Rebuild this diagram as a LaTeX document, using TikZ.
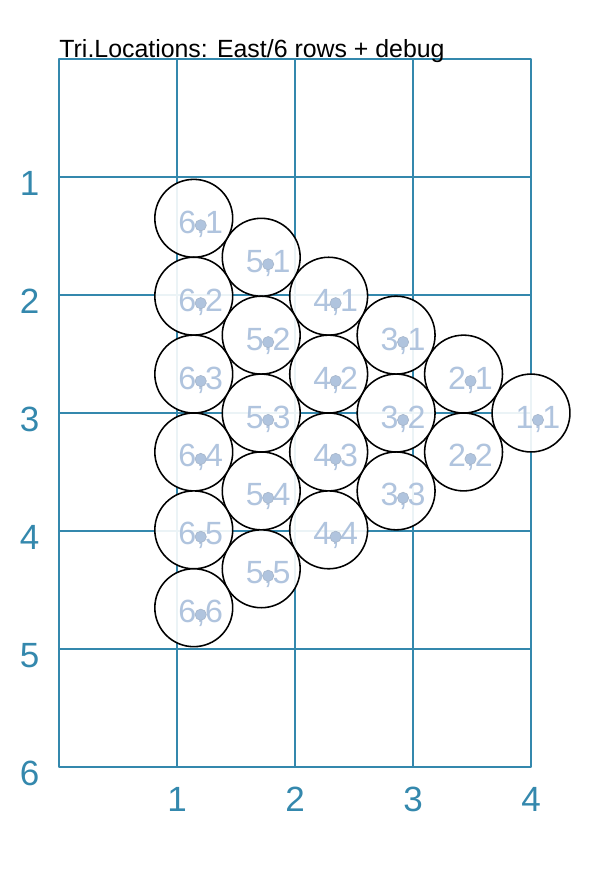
\documentclass[tikz,border=0pt]{standalone}
\usepackage{fontspec}
\setmainfont{Liberation Sans}
\usepackage{xcolor}
\definecolor{gridblue}{RGB}{52,136,173}
\definecolor{lightsteel}{RGB}{176,196,222}

\begin{document}
\begin{tikzpicture}[x=2cm, y=-2cm,
    gridline/.style={draw=gridblue, line width=0.95pt, line join=round},
    axislabel/.style={text=gridblue, font=\fontsize{16.9}{18}\selectfont, inner sep=0pt, anchor=base},
    cell/.style={circle, draw=black, line width=0.75pt, fill=white, fill opacity=0.9, minimum size=1.32cm, inner sep=0pt},
    cellno/.style={text=lightsteel, font=\fontsize{15.5}{16}\selectfont, inner sep=0pt, anchor=base},
    marker/.style={circle, fill=lightsteel, draw=lightsteel!80!gray, line width=0.3pt, minimum size=0.19cm, inner sep=0pt}
]
    \useasboundingbox (-0.5,-0.5) rectangle (4.695,6.915);

    % Grid
    \draw[gridline] (0,0) rectangle (4,6);
    \foreach \i in {1,2,3}
        \draw[gridline] (\i,0) -- (\i,6);
    \foreach \i in {1,...,5}
        \draw[gridline] (0,\i) -- (4,\i);

    % Axis labels
    \foreach \i in {1,...,6}
        \node[axislabel] (ylab\i) at (-0.25,\i+0.153) {\i};
    \foreach \i in {1,...,4}
        \node[axislabel] (xlab\i) at (\i,6.373) {\i};

    % Title
    \node[anchor=base west, inner sep=0pt, font=\fontsize{12}{13}\selectfont] (title) at (0,-0.015) {Tri.Locations: East/6 rows + debug};

    % Circles
    \foreach \k in {1,...,6} {
        \foreach \j in {1,...,\k} {
            \pgfmathsetmacro{\cx}{4-(\k-1)*0.5716}
            \pgfmathsetmacro{\cy}{3+(\j-1-(\k-1)/2)*0.66}
            \node[cell] (c\k\j) at (\cx,\cy) {};
            \node[cellno] (n\k\j) at ([shift={(0.059,0.127)}]c\k\j.center) {\k,\j};
            \node[marker] (m\k\j) at ([shift={(0.059,0.059)}]c\k\j.center) {};
        }
    }
\end{tikzpicture}
\end{document}
